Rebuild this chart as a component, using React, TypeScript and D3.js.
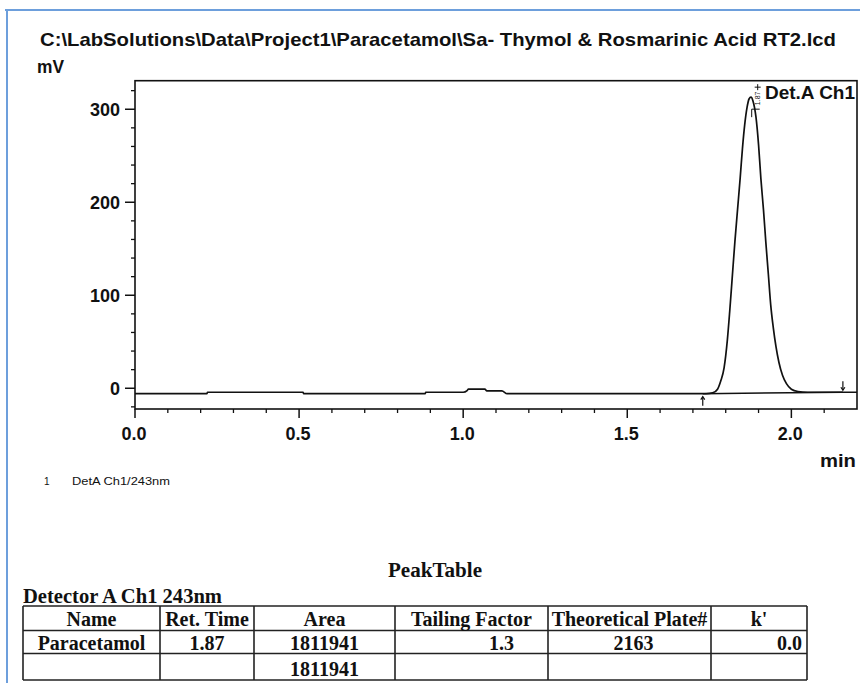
import React from 'react';
import * as d3 from 'd3';

// ---------- data ----------
const traceTime = [
  0, 0.219, 0.221, 0.512, 0.514, 0.884, 0.886, 1.0, 1.012, 1.016, 1.066, 1.072, 1.118, 1.134, 1.136,
  1.74, 1.76, 1.775, 1.785, 1.795, 1.805, 1.812, 1.82, 1.828, 1.836, 1.844, 1.851, 1.858, 1.865, 1.871,
  1.877, 1.883, 1.892, 1.9, 1.907, 1.915, 1.922, 1.93, 1.937, 1.945, 1.953, 1.962, 1.973, 1.985, 2.0,
  2.02, 2.05, 2.2,
];
const traceMv = [
  -5.8, -5.8, -4.3, -4.3, -5.8, -5.8, -4.3, -4.3, -2.5, -0.9, -0.9, -2.9, -2.9, -5.8, -5.8,
  -5.8, -5.0, -1, 8, 22, 52, 82, 120, 158, 192, 226, 258, 284, 302, 311,
  313, 309, 292, 262, 226, 192, 158, 122, 90, 65, 45, 28, 14, 5, -1,
  -3.5, -4.3, -4.3,
];
const xMajorTicks = [0, 0.5, 1.0, 1.5, 2.0];
const xMinorTicks = [0.1, 0.2, 0.3, 0.4, 0.6, 0.7, 0.8, 0.9, 1.1, 1.2, 1.3, 1.4, 1.6, 1.7, 1.8, 1.9, 2.1];
const yMajorTicks = [0, 100, 200, 300];
const yMinorTicks = [-20, 20, 40, 60, 80, 120, 140, 160, 180, 220, 240, 260, 280, 320];
const peakStartTime = 1.73;
const peakEndTime = 2.157;
const peakStartMv = -5.8;
const peakEndMv = -4.3;
const retentionTime = 1.87;
const apexMv = 313;

const titleText = 'C:\\LabSolutions\\Data\\Project1\\Paracetamol\\Sa- Thymol & Rosmarinic Acid RT2.lcd';
const legendIndex = '1';
const legendText = 'DetA Ch1/243nm';
const channelLabel = 'Det.A Ch1';
const tableTitle = 'PeakTable';
const detectorLabel = 'Detector A Ch1 243nm';
const tableHeaders = ['Name', 'Ret. Time', 'Area', 'Tailing Factor', 'Theoretical Plate#', "k'"];
const tableRow1 = ['Paracetamol', '1.87', '1811941', '1.3', '2163', '0.0'];
const tableRow2 = ['', '', '1811941', '', '', ''];

// ---------- layout ----------
const W = 860;
const H = 683;
const plot = { left: 135, right: 857, top: 80.7, bottom: 409 };
const colEdges = [23, 160, 254, 395, 548, 711, 807];
const rowEdges = [606, 630.5, 653.5, 680];
const rowBaselines = [625.5, 649.5, 676];
const cellShift = [0, 0, 0, 30, 4, 0];
const cellAnchor = ['middle', 'middle', 'middle', 'middle', 'middle', 'end'];

const sans = '"Liberation Sans", Arial, sans-serif';
const serif = '"Liberation Serif", "Times New Roman", serif';
const ink = '#111';

export default function App() {
  const x = d3.scaleLinear().domain([0, 2.2]).range([plot.left, plot.right]);
  const y = d3.scaleLinear().domain([-22.3, 330.7]).range([plot.bottom, plot.top]);

  const pts: [number, number][] = traceTime.map((t, i) => [t, traceMv[i]]);
  const line = d3
    .line<[number, number]>()
    .x((d) => x(d[0]))
    .y((d) => y(d[1]))
    .curve(d3.curveMonotoneX);

  const upX = x(peakStartTime);
  const upY = y(peakStartMv);
  const dnX = x(peakEndTime);
  const dnY = y(peakEndMv);
  const apX = x(retentionTime);
  const apY = y(apexMv);

  const cellX = (i: number) =>
    cellAnchor[i] === 'end' ? colEdges[i + 1] - 5 : (colEdges[i] + colEdges[i + 1]) / 2 + cellShift[i];

  return (
    <svg
      width={W}
      height={H}
      viewBox={`0 0 ${W} ${H}`}
      style={{ position: 'absolute', left: 0, top: 0, background: '#fff' }}
    >
      <rect x={0} y={0} width={W} height={H} fill="#fff" />
      {/* blue frame */}
      <line x1={5} y1={10} x2={W} y2={10} stroke="#6d9fdc" strokeWidth={2} />
      <line x1={7} y1={10} x2={7} y2={H} stroke="#6d9fdc" strokeWidth={2} />

      {/* title */}
      <text
        x={40}
        y={46}
        fontFamily={sans}
        fontWeight="bold"
        fontSize={19}
        fill={ink}
        textLength={796}
        lengthAdjust="spacingAndGlyphs"
      >
        {titleText}
      </text>
      <text x={37} y={73} fontFamily={sans} fontWeight="bold" fontSize={19} fill={ink} textLength={27} lengthAdjust="spacingAndGlyphs">
        mV
      </text>

      {/* plot frame */}
      <rect
        x={plot.left}
        y={plot.top}
        width={plot.right - plot.left}
        height={plot.bottom - plot.top}
        fill="none"
        stroke={ink}
        strokeWidth={1.6}
      />

      {/* y axis ticks */}
      {yMajorTicks.map((v) => (
        <g key={'ym' + v}>
          <line x1={plot.left - 10} x2={plot.left} y1={y(v)} y2={y(v)} stroke={ink} strokeWidth={1.5} />
          <text
            x={plot.left - 15}
            y={y(v) + 6.5}
            textAnchor="end"
            fontFamily={sans}
            fontWeight="bold"
            fontSize={18}
            fill={ink}
          >
            {v}
          </text>
        </g>
      ))}
      {yMinorTicks.map((v) => (
        <line key={'yn' + v} x1={plot.left - 4} x2={plot.left} y1={y(v)} y2={y(v)} stroke={ink} strokeWidth={1.3} />
      ))}

      {/* x axis ticks */}
      {xMajorTicks.map((v) => (
        <g key={'xm' + v}>
          <line x1={x(v)} x2={x(v)} y1={plot.bottom} y2={plot.bottom + 9} stroke={ink} strokeWidth={1.5} />
          <text
            x={x(v) - 1}
            y={440}
            textAnchor="middle"
            fontFamily={sans}
            fontWeight="bold"
            fontSize={18}
            fill={ink}
          >
            {v.toFixed(1)}
          </text>
        </g>
      ))}
      {xMinorTicks.map((v) => (
        <line key={'xn' + v} x1={x(v)} x2={x(v)} y1={plot.bottom} y2={plot.bottom + 4} stroke={ink} strokeWidth={1.3} />
      ))}
      <text x={820} y={467} fontFamily={sans} fontWeight="bold" fontSize={18} fill={ink} textLength={36} lengthAdjust="spacingAndGlyphs">
        min
      </text>

      {/* integration baseline */}
      <line x1={upX} y1={upY} x2={dnX} y2={dnY} stroke={ink} strokeWidth={1.5} />
      {/* trace */}
      <path d={line(pts) || ''} fill="none" stroke={ink} strokeWidth={1.7} />

      {/* peak start / end markers */}
      <g stroke={ink} strokeWidth={1.2} fill="none">
        <line x1={upX} x2={upX} y1={upY + 3} y2={upY + 12} />
        <polyline points={`${upX - 2},${upY + 6} ${upX},${upY + 3} ${upX + 2},${upY + 6}`} />
        <line x1={dnX} x2={dnX} y1={dnY - 11} y2={dnY - 2} />
        <polyline points={`${dnX - 2},${dnY - 5} ${dnX},${dnY - 2} ${dnX + 2},${dnY - 5}`} />
      </g>

      {/* apex annotations */}
      <g stroke={ink} strokeWidth={1}>
        <line x1={apX + 6} x2={apX + 12} y1={apY - 10} y2={apY - 10} />
        <line x1={apX + 9} x2={apX + 9} y1={apY - 13} y2={apY - 7} />
        <line x1={apX + 3} x2={apX + 11} y1={apY + 12} y2={apY + 12} />
        <line x1={apX + 3} x2={apX + 3} y1={apY + 12} y2={apY + 20} />
      </g>
      <text
        transform={`translate(${apX + 11},${apY + 8}) rotate(-90)`}
        fontFamily={sans}
        fontSize={7}
        fill={ink}
      >
        {retentionTime.toFixed(2)}
      </text>
      <text x={765} y={99} fontFamily={sans} fontWeight="bold" fontSize={18} fill={ink} textLength={90} lengthAdjust="spacingAndGlyphs">
        {channelLabel}
      </text>

      {/* legend */}
      <text x={44} y={485} fontFamily={sans} fontSize={10} fill={ink}>
        {legendIndex}
      </text>
      <text x={72} y={485} fontFamily={sans} fontSize={10} fill={ink} textLength={98} lengthAdjust="spacingAndGlyphs">
        {legendText}
      </text>

      {/* peak table */}
      <text x={388} y={577} fontFamily={serif} fontWeight="bold" fontSize={20} fill={ink} textLength={94} lengthAdjust="spacingAndGlyphs">
        {tableTitle}
      </text>
      <text x={23} y={603} fontFamily={serif} fontWeight="bold" fontSize={20} fill={ink} textLength={199} lengthAdjust="spacingAndGlyphs">
        {detectorLabel}
      </text>
      <g stroke="#222" strokeWidth={1.6}>
        {rowEdges.map((ry, i) => (
          <line key={'r' + i} x1={colEdges[0]} x2={colEdges[colEdges.length - 1]} y1={ry} y2={ry} />
        ))}
        {colEdges.map((cx, i) => (
          <line key={'c' + i} x1={cx} x2={cx} y1={rowEdges[0]} y2={rowEdges[rowEdges.length - 1]} />
        ))}
      </g>
      {tableHeaders.map((h, i) => (
        <text
          key={'h' + i}
          x={(colEdges[i] + colEdges[i + 1]) / 2}
          y={rowBaselines[0]}
          textAnchor="middle"
          fontFamily={serif}
          fontWeight="bold"
          fontSize={20}
          fill={ink}
        >
          {h}
        </text>
      ))}
      {[tableRow1, tableRow2].map((row, r) =>
        row.map((v, i) =>
          v ? (
            <text
              key={`d${r}-${i}`}
              x={cellX(i)}
              y={rowBaselines[r + 1]}
              textAnchor={cellAnchor[i] as any}
              fontFamily={serif}
              fontWeight="bold"
              fontSize={20}
              fill={ink}
            >
              {v}
            </text>
          ) : null
        )
      )}
    </svg>
  );
}
